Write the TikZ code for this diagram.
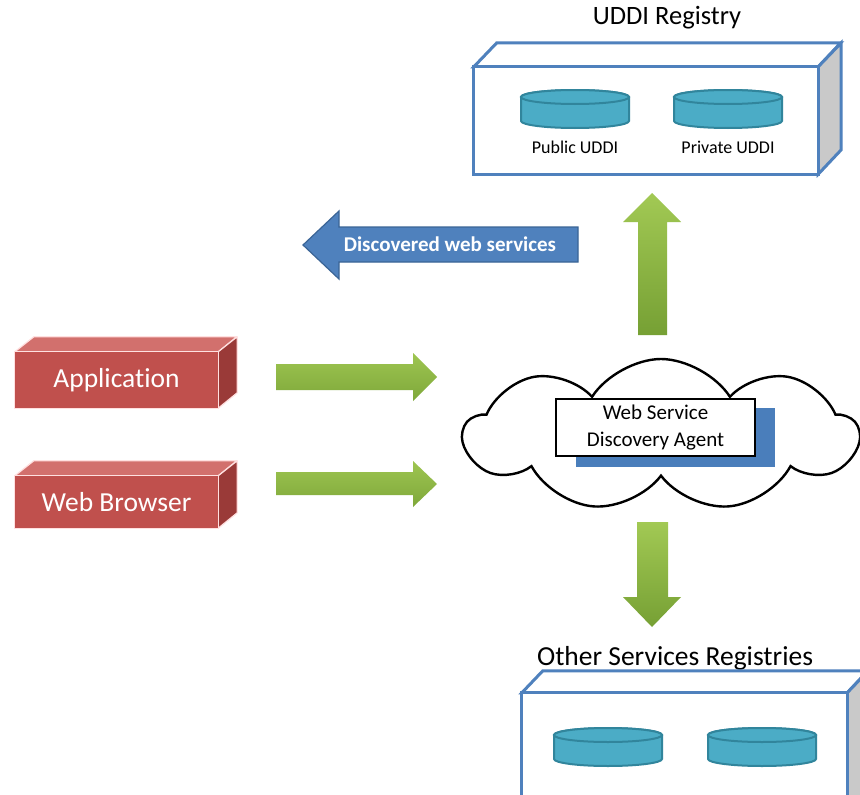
\documentclass[tikz,border=0pt]{standalone}
\usepackage{fontspec}
\setmainfont[Ligatures=NoCommon]{Carlito}
\usetikzlibrary{shapes.symbols}
\definecolor{regblue}{HTML}{4F81BD}
\definecolor{regside}{HTML}{C9C9C9}
\definecolor{diskfill}{HTML}{4BACC6}
\definecolor{diskline}{HTML}{31859C}
\definecolor{redfront}{HTML}{C0504D}
\definecolor{redtop}{HTML}{D2706D}
\definecolor{redside}{HTML}{9A3A38}
\definecolor{grlight}{HTML}{A2C954}
\definecolor{grdark}{HTML}{76A034}
\definecolor{blarrow}{HTML}{4F81BD}
\definecolor{blarrowline}{HTML}{3A6496}
\definecolor{agentshadow}{HTML}{4A7EBB}
\tikzset{
  regface/.style={draw=regblue, line width=3pt, line join=miter},
  diskst/.style={draw=diskline, fill=diskfill, line width=2pt},
  disk/.pic={
    \filldraw[diskst] (-54,-12) -- (-54,12) arc[start angle=180,end angle=0,x radius=54,y radius=7]
      -- (54,-12) arc[start angle=0,end angle=-180,x radius=54,y radius=7] -- cycle;
    \draw[diskst] (0,-12) ellipse[x radius=54,y radius=7];
  },
  redbox/.style={inner sep=0pt, text=white, font=\fontsize{27.5}{30}\selectfont},
  redface/.style={draw=white!88!red, line width=1.2pt, line join=round},
  greenv/.style={top color=grlight, bottom color=grdark, draw=none},
  greenh/.style={top color=grlight!90!grdark, bottom color=grdark!80!grlight, draw=none},
  regtitle/.style={font=\fontsize{26.5}{30}\selectfont},
  disklabel/.style={font=\fontsize{18}{20}\selectfont},
}
\begin{document}
\begin{tikzpicture}[x=1pt,y=-1pt]
\useasboundingbox[fill=white] (0,0) rectangle (860,795);

% ---------- UDDI Registry ----------
\node[regtitle] (uddititle) at (667,18) {UDDI Registry};
\node[inner sep=0pt, minimum width=344pt, minimum height=107pt] (uddi) at (646,120.5) {};
\filldraw[regface, fill=white] (uddi.north west) -- ++(23,-24) -- ++(344,0) -- (uddi.north east) -- cycle;
\filldraw[regface, fill=regside] (uddi.north east) -- ++(23,-24) -- ++(0,107) -- (uddi.south east) -- cycle;
\filldraw[regface, fill=white] (uddi.north west) rectangle (uddi.south east);
\pic at (575,109) {disk};
\pic at (728,109) {disk};
\node[disklabel] (publbl) at (575,147) {Public UDDI};
\node[disklabel] (privlbl) at (728,147) {Private UDDI};

% ---------- Other Services Registries ----------
\node[regtitle, font=\fontsize{27.5}{30}\selectfont] (othertitle) at (675,658) {Other Services Registries};
\node[inner sep=0pt, minimum width=325pt, minimum height=120pt] (other) at (684.5,753) {};
\filldraw[regface, fill=white] (other.north west) -- ++(21,-22) -- ++(325,0) -- (other.north east) -- cycle;
\filldraw[regface, fill=regside] (other.north east) -- ++(21,-22) -- ++(0,120) -- (other.south east) -- cycle;
\filldraw[regface, fill=white] (other.north west) rectangle (other.south east);
\pic at (608,747) {disk};
\pic at (762,747) {disk};

% ---------- Red 3D boxes ----------
\node[redbox, minimum width=203pt, minimum height=56pt] (app) at (116.5,380) {};
\filldraw[redface, fill=redtop] (app.north west) -- ++(19,-15) -- ++(203,0) -- (app.north east) -- cycle;
\filldraw[redface, fill=redside] (app.north east) -- ++(19,-15) -- ++(0,56) -- (app.south east) -- cycle;
\filldraw[redface, fill=redfront] (app.north west) rectangle (app.south east);
\node[redbox] at (app.center) {Application};

\node[redbox, minimum width=203pt, minimum height=52pt] (web) at (116.5,502) {};
\filldraw[redface, fill=redtop] (web.north west) -- ++(19,-15) -- ++(203,0) -- (web.north east) -- cycle;
\filldraw[redface, fill=redside] (web.north east) -- ++(19,-15) -- ++(0,52) -- (web.south east) -- cycle;
\filldraw[redface, fill=redfront] (web.north west) rectangle (web.south east);
\node[redbox] at (web.center) {Web Browser};

% ---------- Cloud with agent ----------
\node[cloud, cloud puffs=9, cloud puff arc=115, aspect=2.6, draw=black, line width=2.4pt,
      fill=white, minimum width=394pt, minimum height=152pt] (cloud) at (661,435) {};
\fill[agentshadow] (576,408) rectangle (775,467);
\node[draw=black, line width=1.8pt, fill=white, minimum width=199pt, minimum height=57pt,
      inner sep=0pt, align=center, font=\fontsize{21}{27}\selectfont] (agent) at (655.5,427.5)
      {Web Service\\Discovery Agent};

% ---------- Arrows ----------
\path[greenh] (276,364) -- (413,364) -- (413,353) -- (437,377) -- (413,401) -- (413,390) -- (276,390) -- cycle;
\path[greenh] (276,472) -- (413,472) -- (413,461) -- (437,484) -- (413,507) -- (413,495) -- (276,495) -- cycle;
\path[greenv] (638,335) -- (638,222) -- (623,222) -- (652,193) -- (681,222) -- (667,222) -- (667,335) -- cycle;
\path[greenv] (637,522) -- (668,522) -- (668,597) -- (681,597) -- (652,627) -- (623,597) -- (637,597) -- cycle;
\filldraw[fill=blarrow, draw=blarrowline, line width=1.2pt, line join=miter]
  (578,227) -- (578,262) -- (339,262) -- (339,279) -- (303,245) -- (339,211) -- (339,227) -- cycle;
\node[text=white, font=\bfseries\fontsize{21}{24}\selectfont] (disc) at (450,244) {Discovered web services};
\end{tikzpicture}
\end{document}
